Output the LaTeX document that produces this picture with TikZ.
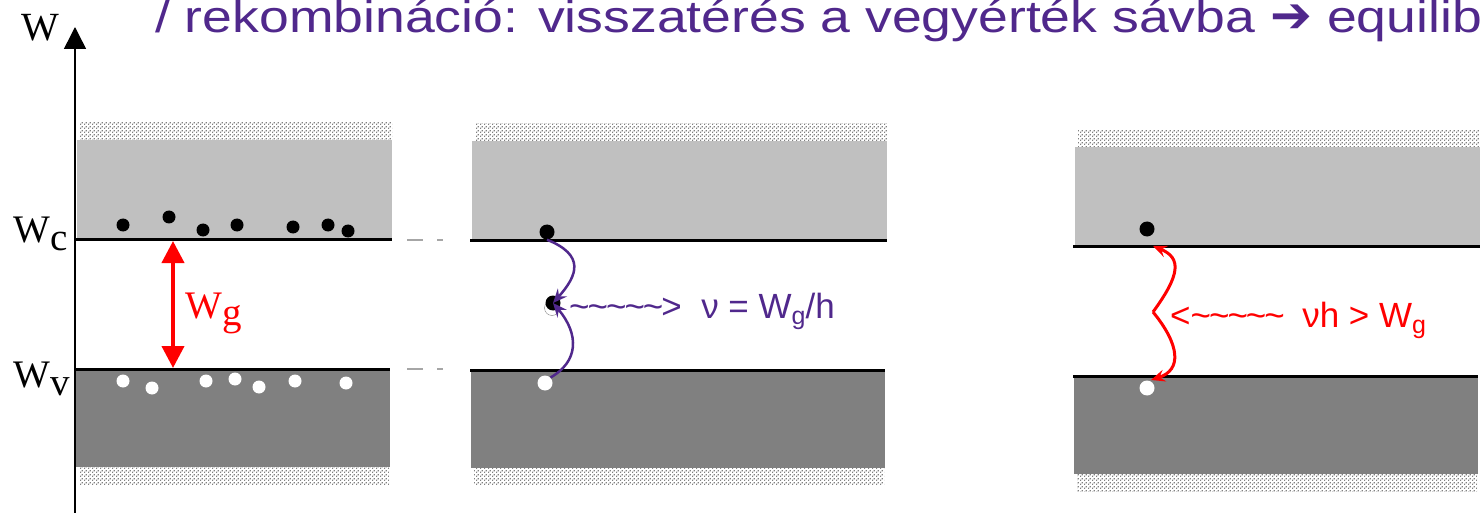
\documentclass[tikz,border=0pt]{standalone}
\usepackage{fontspec}
\setmainfont{Liberation Sans}
\newfontfamily\titelfont[FakeStretch=1.19]{Liberation Sans}
\newfontfamily\timesfont{Liberation Serif}
\newfontfamily\dejavu{DejaVu Sans}
\usetikzlibrary{arrows.meta,patterns.meta}
\definecolor{lila}{RGB}{80,40,140}
\definecolor{hellgrau}{RGB}{192,192,192}
\definecolor{dunkelgrau}{RGB}{128,128,128}
\newcommand{\tl}{\textasciitilde\kern-2pt}
\tikzdeclarepattern{
    name=stipple, type=uncolored,
    bounding box={(0pt,0pt) and (4pt,4pt)},
    tile size={(4pt,4pt)},
    code={
        \pgfpathrectangle{\pgfpoint{0pt}{0pt}}{\pgfpoint{1.5pt}{1.5pt}}
        \pgfpathrectangle{\pgfpoint{2pt}{2pt}}{\pgfpoint{1.5pt}{1.5pt}}
        \pgfusepath{fill}
    }
}

\begin{document}
\begin{tikzpicture}[x=1pt, y=-1pt,
    electron/.style={circle, fill=black, inner sep=0pt, minimum size=13pt},
    loch/.style={circle, fill=white, inner sep=0pt, minimum size=13pt},
    kante/.style={line width=3pt},
    punkte/.style={pattern=stipple, pattern color=gray},
    serifW/.style={anchor=base west, font=\timesfont\fontsize{39}{39}\selectfont},
    ]
    \useasboundingbox (0,0) rectangle (1480,513);
    \clip (0,0) rectangle (1480,513);

    %Titel
    \node[anchor=base west, inner sep=0pt, text=lila, font=\titelfont\fontsize{45}{50}\selectfont] (titel) at (155,33)
        {/ rekombináció: visszatérés a vegyérték sávba {\dejavu\fontsize{50}{50}\selectfont ➔} equilib};

    %Baender
    \foreach \xa/\xb/\dy in {76/392/0, 471/887/1, 1074/1480/7} {
        \fill[punkte] (\xa+4,123+\dy) rectangle (\xb,140+\dy);
        \fill[hellgrau] (\xa+1,140+\dy) rectangle (\xb,238+\dy);
        \fill[dunkelgrau] (\xa,371+\dy) rectangle (\xb-2,467+\dy);
        \fill[punkte] (\xa+3,467+\dy) rectangle (\xb-3,484+\dy);
        \draw[kante] (\xa-1,239+\dy) -- (\xb,239+\dy);
        \draw[kante] (\xa-1,369+\dy) -- (\xb-2,369+\dy);
    }

    %Achse
    \coordinate (a0) at (75,513);
    \coordinate (a1) at (75,27);
    \draw[line width=1.5pt, -{Triangle[length=22pt,width=22pt]}] (a0) -- (a1);
    \node[anchor=base west, inner sep=0pt, font=\timesfont\fontsize{40}{40}\selectfont] (w) at (21,41) {W};
    \node[serifW, inner sep=0pt] (wc) at (13,243) {W\raisebox{-8pt}{c}};
    \node[serifW, inner sep=0pt] (wv) at (13,387) {W\raisebox{-8pt}{v}};

    %Striche zwischen den Baendern
    \foreach \y in {240,369} {
        \draw[gray!70, line width=2pt] (407,\y) -- (423,\y);
        \draw[gray!70, line width=2pt] (437,\y) -- (443,\y);
    }

    %Elektronen und Loecher
    \foreach[count=\i] \x/\y in {123/225, 169/217, 203/230, 237/225, 293/227, 328/225, 348/231} {
        \node[electron] (e\i) at (\x,\y) {};
    }
    \foreach[count=\i] \x/\y in {123/381, 152/388, 206/381, 235/379, 259/387, 295/381, 346/383} {
        \node[loch] (h\i) at (\x,\y) {};
    }

    %Bandluecke
    \coordinate (g0) at (173,241);
    \coordinate (g1) at (173,368);
    \draw[red, line width=4pt, {Triangle[length=22pt,width=22pt]}-{Triangle[length=22pt,width=22pt]}] (g0) -- (g1);
    \node[serifW, inner sep=0pt, text=red] (wg) at (185,318) {W\raisebox{-7pt}{g}};

    %Rekombination
    \node[electron, minimum size=15pt] (p1) at (547,232) {};
    \node[loch, minimum size=15pt, draw=gray, thin] (p2h) at (552,308) {};
    \node[electron, minimum size=15pt] (p2) at (553,303) {};
    \node[loch, minimum size=15pt] (p3) at (545,383) {};
    \draw[lila, line width=2.5pt, -{Stealth[length=14pt,width=12pt,inset=5pt]}]
        (p1.south) .. controls (585,255) and (578,275) .. (p2.center);
    \draw[lila, line width=2.5pt, -{Stealth[length=14pt,width=12pt,inset=5pt]}]
        (p3.north east) .. controls (578,362) and (580,335) .. (p2.center);
    \node[anchor=base west, inner sep=0pt, text=lila, font=\fontsize{35}{35}\selectfont] (nu) at (569,318)
        {\tl\tl\tl\tl\tl>\ \ ν = W{\fontsize{25}{25}\selectfont\raisebox{-6pt}{g}}/h};

    %Generation
    \node[electron, minimum size=15pt] (q1) at (1147,229) {};
    \node[loch, minimum size=15pt] (q2) at (1147,388) {};
    \coordinate (knick) at (1153,312);
    \coordinate (oben) at (1153,246);
    \coordinate (unten) at (1151,380);
    \draw[red, line width=3pt, -{Stealth[length=14pt,width=12pt,inset=5pt]}]
        (knick) .. controls (1180,275) and (1182,258) .. (oben);
    \draw[red, line width=3pt, -{Stealth[length=14pt,width=12pt,inset=5pt]}]
        (knick) .. controls (1180,345) and (1182,370) .. (unten);
    \node[anchor=base west, inner sep=0pt, text=red, font=\fontsize{35}{35}\selectfont] (nuh) at (1170,327)
        {<\tl\tl\tl\tl\tl\ \ νh > W{\fontsize{25}{25}\selectfont\raisebox{-6pt}{g}}};
\end{tikzpicture}
\end{document}
